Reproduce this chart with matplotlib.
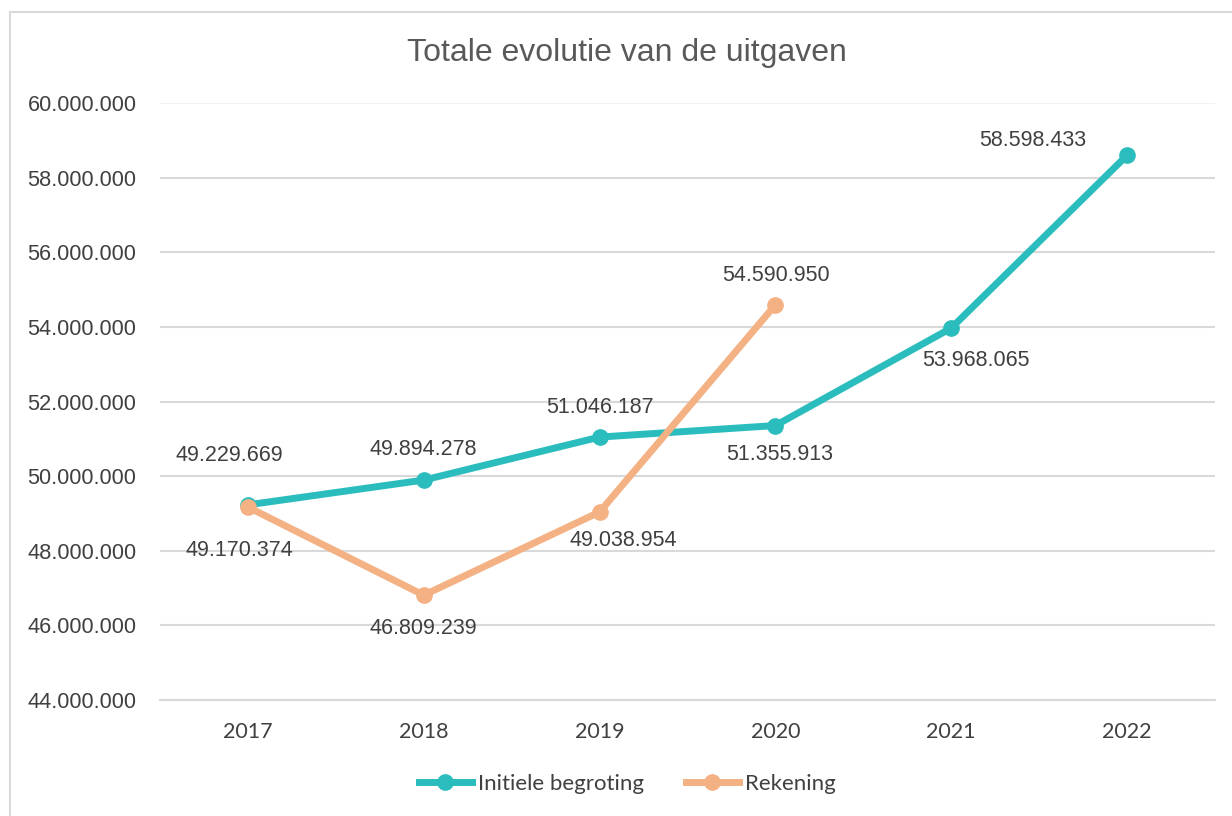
import matplotlib
matplotlib.use("Agg")
import matplotlib.pyplot as plt
from matplotlib.lines import Line2D
from matplotlib.ticker import FuncFormatter

years = ["2017", "2018", "2019", "2020", "2021", "2022"]
initiele = [49229669, 49894278, 51046187, 51355913, 53968065, 58598433]
rekening_years = ["2017", "2018", "2019", "2020"]
rekening = [49170374, 46809239, 49038954, 54590950]
yticks = [44000000, 46000000, 48000000, 50000000, 52000000, 54000000, 56000000, 58000000, 60000000]

TEAL = "#2BBDBD"
ORANGE = "#F4B183"
TXT = "#404040"
GRID = "#D9D9D9"

def fmt(v):
    return f"{int(round(v)):,}".replace(",", ".")

fig = plt.figure(figsize=(12.32, 8.16), dpi=100)
ax = fig.add_axes([160/1232, 1-700/816, (1215-160)/1232, (700-103)/816])

x_all = list(range(len(years)))
x_rek = [years.index(y) for y in rekening_years]

ax.plot(x_all, initiele, color=TEAL, lw=5, marker="o", ms=11, zorder=3, solid_capstyle="round")
ax.plot(x_rek, rekening, color=ORANGE, lw=5, marker="o", ms=11, zorder=4, solid_capstyle="round")

ax.set_xlim(-0.5, len(years) - 0.5)
ax.set_ylim(44000000, 60000000)
ax.set_yticks(yticks)
ax.yaxis.set_major_formatter(FuncFormatter(lambda v, p: fmt(v)))
ax.set_xticks(x_all)
ax.set_xticklabels(years, fontfamily="Lato", fontsize=15.5, color=TXT)
for lab in ax.get_yticklabels():
    lab.set_fontfamily("Liberation Sans")
    lab.set_fontsize(15.7)
    lab.set_color(TXT)
ax.tick_params(axis="both", length=0)
ax.tick_params(axis="y", pad=17)
ax.tick_params(axis="x", pad=16)
ax.grid(axis="y", color=GRID, lw=1.5)
ax.set_axisbelow(True)
for s in ["left", "right", "top"]:
    ax.spines[s].set_visible(False)
ax.spines["bottom"].set_color(GRID)
ax.spines["bottom"].set_linewidth(1.5)
# faint top gridline
ax.get_ygridlines()[-1].set_color("#F2F2F2")

off_init = [(-19, 49), (0, 31), (0, 30), (4, -29), (25, -32), (-94, 15)]
off_rek = [(-9, -43), (0, -33), (24, -29), (1, 29)]
for xi, v, o in zip(x_all, initiele, off_init):
    ax.annotate(fmt(v), (xi, v), xytext=o, textcoords="offset pixels",
                ha="center", va="center", fontsize=15.5, color=TXT,
                fontfamily="Liberation Sans")
for xi, v, o in zip(x_rek, rekening, off_rek):
    ax.annotate(fmt(v), (xi, v), xytext=o, textcoords="offset pixels",
                ha="center", va="center", fontsize=15.5, color=TXT,
                fontfamily="Liberation Sans")

fig.text(627/1232, 1-53/816, "Totale evolutie van de uitgaven", ha="center", va="center",
         fontsize=23, color="#595959", fontfamily="Liberation Sans")

handles = [Line2D([], [], color=TEAL, lw=5, marker="o", ms=11),
           Line2D([], [], color=ORANGE, lw=5, marker="o", ms=11)]
fig.legend(handles, ["Initiele begroting", "Rekening"], loc="center",
           bbox_to_anchor=(627/1232, 1-784/816), ncol=2, frameon=False,
           prop={"family": "Lato", "size": 16}, labelcolor=TXT,
           handlelength=2.4, handletextpad=0.25, columnspacing=1.9)

# chart border (left and top visible)
fig.add_artist(Line2D([10/1232, 10/1232], [0, 1-12/816], transform=fig.transFigure, color=GRID, lw=1.5))
fig.add_artist(Line2D([10/1232, 1], [1-12/816, 1-12/816], transform=fig.transFigure, color=GRID, lw=1.5))

fig.savefig("out.png", dpi=100, facecolor="white")
